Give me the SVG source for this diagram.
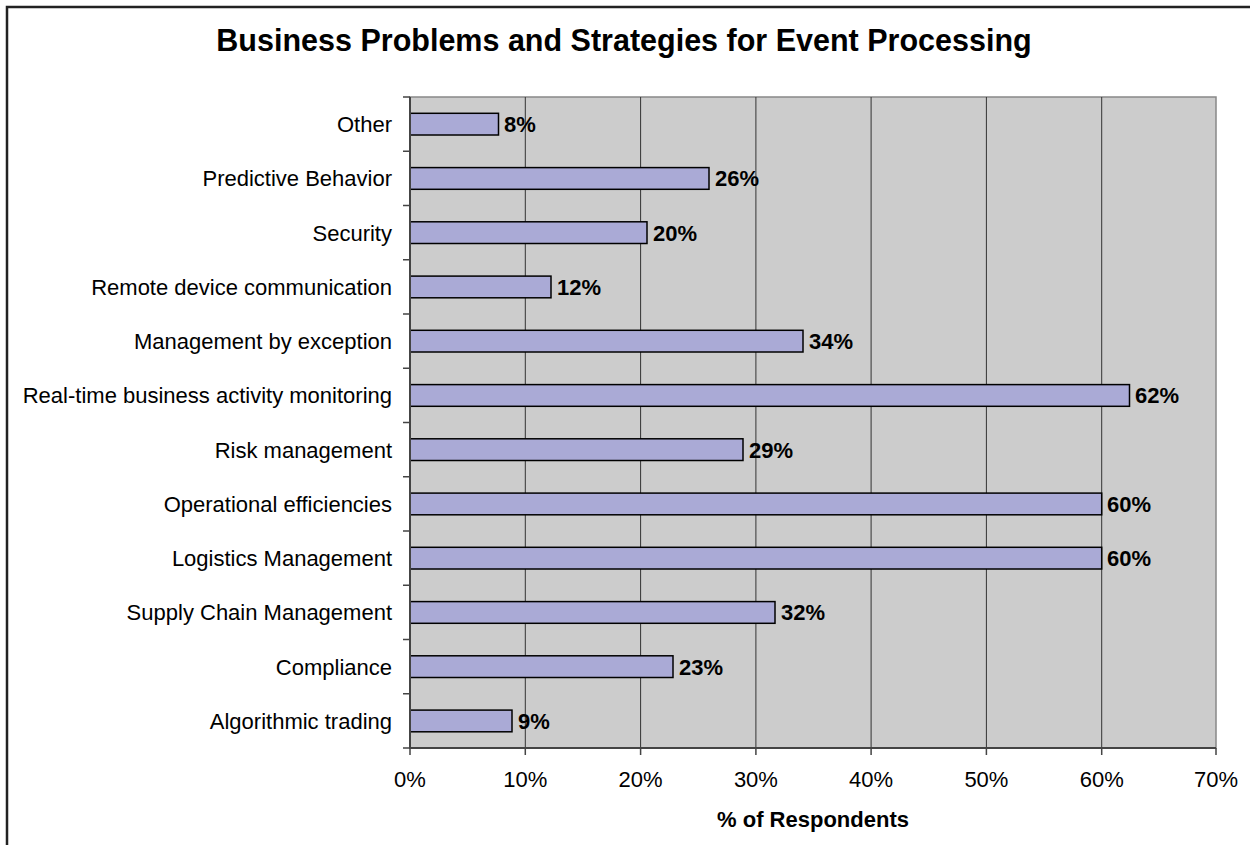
<svg xmlns="http://www.w3.org/2000/svg" width="1250" height="845" viewBox="0 0 1250 845">
<style>
.cat{font-family:"Liberation Sans",Arial,sans-serif;font-size:22px;fill:#000;text-anchor:end}
.val{font-family:"Liberation Sans",Arial,sans-serif;font-size:22px;font-weight:bold;fill:#000}
.tick{font-family:"Liberation Sans",Arial,sans-serif;font-size:22px;fill:#000;text-anchor:middle}
.bar{fill:#AAAAD6;stroke:#000;stroke-width:1.5}
.grid{stroke:#333;stroke-width:1}
</style>
<rect x="0" y="0" width="1250" height="845" fill="#fff"/>
<path d="M7,845 V7 H1250" fill="none" stroke="#222" stroke-width="2.5"/>
<text x="624" y="51" font-family="Liberation Sans,Arial,sans-serif" font-size="30.5" font-weight="bold" text-anchor="middle">Business Problems and Strategies for Event Processing</text>
<g id="plot">
<rect x="410" y="97" width="806" height="651" fill="#CCCCCC" stroke="#888" stroke-width="1.5"/>
<g id="gridlines">
<line class="grid" x1="525.3" y1="97" x2="525.3" y2="748"/>
<line class="grid" x1="640.6" y1="97" x2="640.6" y2="748"/>
<line class="grid" x1="755.9" y1="97" x2="755.9" y2="748"/>
<line class="grid" x1="871.1" y1="97" x2="871.1" y2="748"/>
<line class="grid" x1="986.4" y1="97" x2="986.4" y2="748"/>
<line class="grid" x1="1101.7" y1="97" x2="1101.7" y2="748"/>
</g>
</g>
<g id="bars">
<rect class="bar" x="410" y="113.3" width="88.5" height="21.7"/>
<rect class="bar" x="410" y="167.6" width="299" height="21.7"/>
<rect class="bar" x="410" y="221.8" width="237" height="21.7"/>
<rect class="bar" x="410" y="276.1" width="141" height="21.7"/>
<rect class="bar" x="410" y="330.3" width="393" height="21.7"/>
<rect class="bar" x="410" y="384.6" width="719.5" height="21.7"/>
<rect class="bar" x="410" y="438.8" width="333" height="21.7"/>
<rect class="bar" x="410" y="493.1" width="691.7" height="21.7"/>
<rect class="bar" x="410" y="547.3" width="691.7" height="21.7"/>
<rect class="bar" x="410" y="601.6" width="365" height="21.7"/>
<rect class="bar" x="410" y="655.8" width="263" height="21.7"/>
<rect class="bar" x="410" y="710.1" width="102" height="21.7"/>
</g>
<g id="axes" stroke="#444" stroke-width="2" fill="none">
<path d="M410,97 V748 H1216"/>
<path d="M403,97.0 H410 M403,151.3 H410 M403,205.5 H410 M403,259.8 H410 M403,314.0 H410 M403,368.3 H410 M403,422.5 H410 M403,476.8 H410 M403,531.0 H410 M403,585.3 H410 M403,639.5 H410 M403,693.8 H410 M403,748 H410" stroke-width="1.5"/>
<path d="M410,748 V755 M525.3,748 V755 M640.6,748 V755 M755.9,748 V755 M871.1,748 V755 M986.4,748 V755 M1101.7,748 V755 M1216,748 V755" stroke-width="1.5"/>
</g>
<g id="category-labels">
<text class="cat" x="392" y="132">Other</text>
<text class="cat" x="392" y="186.3">Predictive Behavior</text>
<text class="cat" x="392" y="240.5">Security</text>
<text class="cat" x="392" y="294.8">Remote device communication</text>
<text class="cat" x="392" y="349">Management by exception</text>
<text class="cat" x="392" y="403.3">Real-time business activity monitoring</text>
<text class="cat" x="392" y="457.5">Risk management</text>
<text class="cat" x="392" y="511.8">Operational efficiencies</text>
<text class="cat" x="392" y="566">Logistics Management</text>
<text class="cat" x="392" y="620.3">Supply Chain Management</text>
<text class="cat" x="392" y="674.5">Compliance</text>
<text class="cat" x="392" y="728.8">Algorithmic trading</text>
</g>
<g id="value-labels">
<text class="val" x="504" y="132">8%</text>
<text class="val" x="715" y="186.3">26%</text>
<text class="val" x="653" y="240.5">20%</text>
<text class="val" x="557" y="294.8">12%</text>
<text class="val" x="809" y="349">34%</text>
<text class="val" x="1135" y="403.3">62%</text>
<text class="val" x="749" y="457.5">29%</text>
<text class="val" x="1107" y="511.8">60%</text>
<text class="val" x="1107" y="566">60%</text>
<text class="val" x="781" y="620.3">32%</text>
<text class="val" x="679" y="674.5">23%</text>
<text class="val" x="518" y="728.8">9%</text>
</g>
<g id="x-ticks">
<text class="tick" x="410" y="787">0%</text>
<text class="tick" x="525.3" y="787">10%</text>
<text class="tick" x="640.6" y="787">20%</text>
<text class="tick" x="755.9" y="787">30%</text>
<text class="tick" x="871.1" y="787">40%</text>
<text class="tick" x="986.4" y="787">50%</text>
<text class="tick" x="1101.7" y="787">60%</text>
<text class="tick" x="1216" y="787">70%</text>
</g>
<text x="813" y="827" font-family="Liberation Sans,Arial,sans-serif" font-size="22" font-weight="bold" text-anchor="middle">% of Respondents</text>
</svg>
